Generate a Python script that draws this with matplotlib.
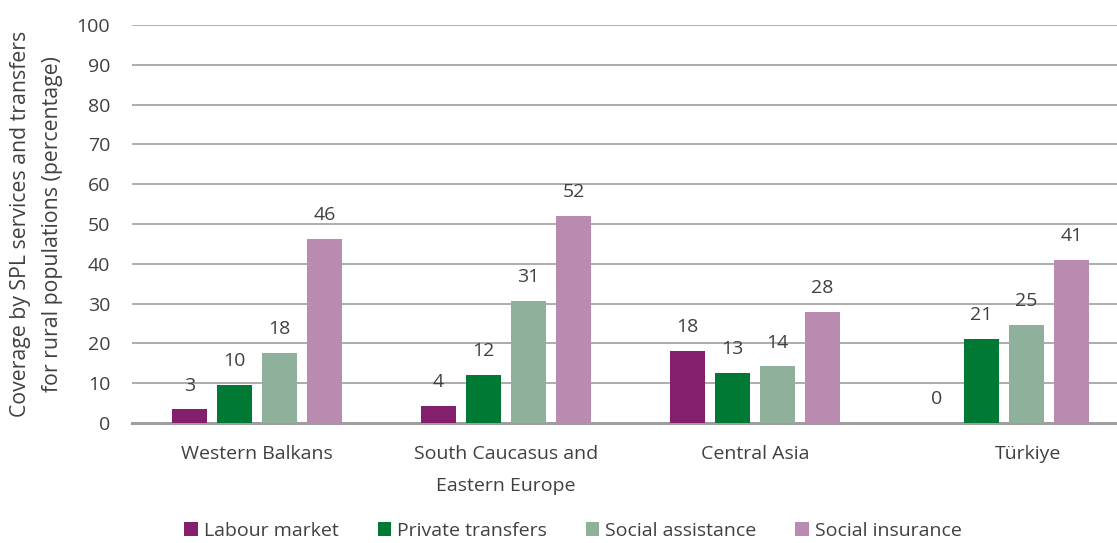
import matplotlib.pyplot as plt
import matplotlib.transforms as mtransforms
import numpy as np

plt.rcParams['font.family'] = ['Open Sans', 'DejaVu Sans']

regions = ['Western Balkans', 'South Caucasus and\nEastern Europe', 'Central Asia', 'Türkiye']
series = ['Labour market', 'Private transfers', 'Social assistance', 'Social insurance']
labour_market = [3.4, 4.3, 18.2, 0.0]
private_transfers = [9.6, 12.1, 12.6, 21.1]
social_assistance = [17.6, 30.6, 14.2, 24.7]
social_insurance = [46.2, 52.0, 27.8, 40.9]
colors = ['#841F6E', '#007934', '#8FB09B', '#BA8BB0']

values = [labour_market, private_transfers, social_assistance, social_insurance]
txt = '#404040'
fs = 14

fig = plt.figure(figsize=(11.17, 5.43), dpi=100)
# right edge goes a bit past the figure, like the cropped original
ax = fig.add_axes([0.1186, 0.221, 0.8917, 0.733])

x = np.arange(len(regions))
slot = 0.181
w = 0.141
for i, (name, vals) in enumerate(zip(series, values)):
    pos = x + (i - 1.5) * slot
    ax.bar(pos, vals, w, color=colors[i], label=name, zorder=3)
    for p, v in zip(pos, vals):
        ax.text(p, v + 6, '%d' % round(v), ha='center', va='center',
                fontsize=fs, color=txt)

ax.set_xlim(-0.5, 3.5)
ax.set_ylim(0, 100)
ax.set_yticks(range(0, 101, 10))
ax.grid(axis='y', color='#A6A6A6', linewidth=1.3, zorder=0)
for s in ['top', 'right', 'left']:
    ax.spines[s].set_visible(False)
ax.spines['bottom'].set_color('#9E9E9E')
ax.spines['bottom'].set_linewidth(2.2)
ax.tick_params(length=0, labelsize=fs, colors=txt)
ax.tick_params(axis='y', pad=16)
ax.tick_params(axis='x', pad=16)
ax.set_xticks(x)
ax.set_xticklabels(regions, linespacing=1.95)
# Türkiye label sits a little right of its bars in the original
last = ax.get_xticklabels()[-1]
last.set_transform(last.get_transform() + mtransforms.ScaledTranslation(24 / 100, 0, fig.dpi_scale_trans))
ax.set_ylabel('Coverage by SPL services and transfers\nfor rural populations (percentage)',
              fontsize=15.3, color=txt, labelpad=10, linespacing=1.65)

fig.legend(loc='lower center', ncol=4, frameon=False, fontsize=fs,
           handlelength=0.7, handleheight=0.7, handletextpad=0.3,
           columnspacing=2.0, bbox_to_anchor=(0.513, -0.026), labelcolor=txt)

fig.savefig('out.png', dpi=100)
